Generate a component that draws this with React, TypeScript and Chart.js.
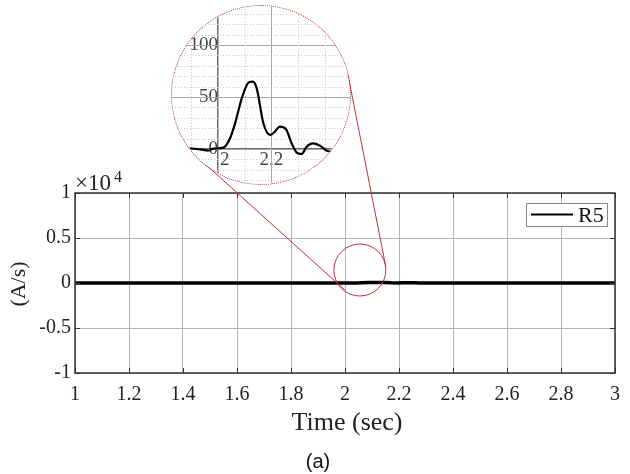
import React, { useEffect, useRef } from "react";
import { Chart, registerables } from "chart.js";
Chart.register(...registerables);

// ---- data (A/s) ----
const timeSec = [1.0, 1.2, 1.4, 1.6, 1.8, 1.85, 1.889, 1.933, 1.964, 1.982, 2.02, 2.045, 2.064, 2.089, 2.114, 2.13, 2.145, 2.17, 2.195, 2.213, 2.232, 2.255, 2.276, 2.295, 2.313, 2.332, 2.355, 2.382, 2.407, 2.426, 2.438, 2.47, 2.6, 2.8, 3.0];
const rateR5 = [0, 0, 0, 0, 0, 1, 0.7, -0.3, -1.6, 0.3, 1.3, 10.3, 24.7, 48.7, 63.8, 64.7, 58.3, 24.7, 13.5, 16.7, 21.5, 18.9, 5.4, -3.5, -4.8, 2.2, 5.4, 3.2, -1.6, -2.6, -0.3, 0.5, 0, 0, 0];
const seriesLabel = "R5";

// main axes
const xTicks = [1, 1.2, 1.4, 1.6, 1.8, 2, 2.2, 2.4, 2.6, 2.8, 3];
const xTickLabels = ["1", "1.2", "1.4", "1.6", "1.8", "2", "2.2", "2.4", "2.6", "2.8", "3"];
const yTicks = [-10000, -5000, 0, 5000, 10000];
const yTickLabels = ["-1", "-0.5", "0", "0.5", "1"];

// inset axes
const insetXTicks = [2, 2.2];
const insetXTickLabels = ["\u2002\u20092", "2.2"];
const insetYTicks = [0, 50, 100];
const insetYTickLabels = ["0", "50", "100"];
const insetXGrid = [1.9, 2.0, 2.1, 2.2, 2.3, 2.4];
const insetYGrid = [-30, -20, -10, 0, 10, 20, 30, 40, 50, 60, 70, 80, 90, 100, 110, 120, 130];
const insetXRange = [1.8277, 2.4944];
const insetYRange = [-33.65, 137.5];

// zoom marker centre (data units)
const zoomCenterTime = 2.055;
const zoomCenterRate = 1444;

const SERIF = "'Liberation Serif', 'Times New Roman', serif";
const RED = "#c4303a";

const zeroPad = (s: any) => {
  s.paddingTop = 0;
  s.paddingBottom = 0;
  s.paddingLeft = 0;
  s.paddingRight = 0;
};

const mainDecor = {
  id: "mainDecor",
  afterDraw(chart: any) {
    const { ctx, chartArea: a, scales } = chart;
    const x = scales.x, y = scales.y;
    ctx.save();
    // frame
    ctx.strokeStyle = "#333";
    ctx.lineWidth = 1.5;
    ctx.strokeRect(a.left, a.top, a.right - a.left, a.bottom - a.top);
    ctx.lineWidth = 1;
    ctx.beginPath();
    xTicks.forEach((v) => {
      const px = Math.round(x.getPixelForValue(v)) + 0.5;
      ctx.moveTo(px, a.top); ctx.lineTo(px, a.top + 5);
      ctx.moveTo(px, a.bottom); ctx.lineTo(px, a.bottom - 5);
    });
    yTicks.forEach((v) => {
      const py = Math.round(y.getPixelForValue(v)) + 0.5;
      ctx.moveTo(a.left, py); ctx.lineTo(a.left + 5, py);
      ctx.moveTo(a.right, py); ctx.lineTo(a.right - 5, py);
    });
    ctx.stroke();

    // legend
    ctx.fillStyle = "#fff";
    ctx.fillRect(526.5, 203.5, 81, 23);
    ctx.strokeStyle = "#888";
    ctx.lineWidth = 1;
    ctx.strokeRect(526.5, 203.5, 81, 23);
    ctx.strokeStyle = "#000";
    ctx.lineWidth = 2;
    ctx.beginPath(); ctx.moveTo(531, 214.5); ctx.lineTo(573, 214.5); ctx.stroke();
    ctx.fillStyle = "#111";
    ctx.font = "22px " + SERIF;
    ctx.textAlign = "left";
    ctx.textBaseline = "middle";
    ctx.fillText(seriesLabel, 578, 216);

    // zoom marker
    const cx = x.getPixelForValue(zoomCenterTime);
    const cy = y.getPixelForValue(zoomCenterRate);
    ctx.strokeStyle = RED;
    ctx.lineWidth = 1;
    ctx.beginPath(); ctx.arc(cx, cy, 26, 0, Math.PI * 2); ctx.stroke();
    ctx.beginPath();
    ctx.moveTo(204, 163); ctx.lineTo(cx - 15, cy + 20);
    ctx.moveTo(348, 75); ctx.lineTo(cx + 26, cy - 3);
    ctx.stroke();

    // texts
    ctx.fillStyle = "#222";
    ctx.font = "23px " + SERIF;
    ctx.textAlign = "left";
    ctx.textBaseline = "alphabetic";
    ctx.fillText("\u00d710", 75, 190);
    ctx.font = "16px " + SERIF;
    ctx.fillText("4", 114, 182);

    ctx.font = "26px " + SERIF;
    ctx.textAlign = "center";
    ctx.textBaseline = "middle";
    ctx.fillText("Time (sec)", 347, 423);

    ctx.font = "20px 'Liberation Sans', Arial, sans-serif";
    ctx.fillStyle = "#111";
    ctx.fillText("(a)", 318, 462);

    ctx.save();
    ctx.translate(19, 284);
    ctx.rotate(-Math.PI / 2);
    ctx.font = "22px " + SERIF;
    ctx.fillStyle = "#222";
    ctx.fillText("(A/s)", 0, 0);
    ctx.restore();

    ctx.restore();
  },
};

const insetGrid = {
  id: "insetGrid",
  beforeDatasetsDraw(chart: any) {
    const { ctx, chartArea: a, scales } = chart;
    const x = scales.x, y = scales.y;
    ctx.save();
    ctx.lineWidth = 1;
    insetYGrid.forEach((v) => {
      const major = v % 50 === 0;
      const py = Math.round(y.getPixelForValue(v)) + 0.5;
      ctx.strokeStyle = major ? "#a8a8a8" : "#c8c8c8";
      ctx.setLineDash(major ? [] : [1, 2]);
      ctx.beginPath(); ctx.moveTo(a.left, py); ctx.lineTo(a.right, py); ctx.stroke();
    });
    insetXGrid.forEach((v) => {
      const major = Math.abs(v - 2.2) < 1e-6;
      const px = Math.round(x.getPixelForValue(v)) + 0.5;
      ctx.strokeStyle = major ? "#a8a8a8" : "#c8c8c8";
      ctx.setLineDash(major ? [] : [1, 2]);
      ctx.beginPath(); ctx.moveTo(px, a.top); ctx.lineTo(px, a.bottom); ctx.stroke();
    });
    ctx.restore();
  },
};

export default function App() {
  const mainRef = useRef<HTMLCanvasElement | null>(null);
  const insetRef = useRef<HTMLCanvasElement | null>(null);

  useEffect(() => {
    const pts = timeSec.map((t, i) => ({ x: t, y: rateR5[i] }));
    const main = new Chart(mainRef.current as HTMLCanvasElement, {
      type: "line",
      data: {
        datasets: [
          {
            label: seriesLabel,
            data: pts,
            borderColor: "#000",
            borderWidth: 3.5,
            pointRadius: 0,
            tension: 0,
          },
        ],
      },
      options: {
        responsive: false,
        animation: false,
        devicePixelRatio: 1,
        layout: { padding: { left: 0, right: 9, top: 193, bottom: 0 } },
        plugins: { legend: { display: false }, tooltip: { enabled: false }, title: { display: false } },
        scales: {
          x: {
            type: "linear",
            min: 1,
            max: 3,
            afterBuildTicks: (s: any) => { s.ticks = xTicks.map((v) => ({ value: v })); },
            afterFit: (s: any) => { s.height = 101; },
            ticks: {
              autoSkip: false,
              maxRotation: 0,
              padding: 10,
              color: "#222",
              font: { family: SERIF, size: 20 },
              callback: (v: any) => { const i = xTicks.indexOf(Number(v)); return i >= 0 ? xTickLabels[i] : ""; },
            },
            grid: { color: "#b4b4b4", lineWidth: 1, drawTicks: false },
            border: { display: false },
          },
          y: {
            type: "linear",
            min: -10000,
            max: 10000,
            afterBuildTicks: (s: any) => { s.ticks = yTicks.map((v) => ({ value: v })); },
            afterFit: (s: any) => { s.width = 75; },
            ticks: {
              padding: 4,
              color: "#222",
              font: { family: SERIF, size: 20 },
              callback: (v: any) => { const i = yTicks.indexOf(Number(v)); return i >= 0 ? yTickLabels[i] : ""; },
            },
            grid: { color: "#b4b4b4", lineWidth: 1, drawTicks: false },
            border: { display: false },
          },
        },
      },
      plugins: [mainDecor],
    } as any);

    const inset = new Chart(insetRef.current as HTMLCanvasElement, {
      type: "line",
      data: {
        datasets: [
          {
            label: seriesLabel,
            data: pts,
            borderColor: "#000",
            borderWidth: 2.2,
            pointRadius: 0,
            tension: 0.35,
            cubicInterpolationMode: "monotone",
          },
        ],
      },
      options: {
        responsive: false,
        animation: false,
        devicePixelRatio: 1,
        layout: { padding: 0 },
        plugins: { legend: { display: false }, tooltip: { enabled: false } },
        scales: {
          x: {
            type: "linear",
            min: insetXRange[0],
            max: insetXRange[1],
            position: { y: 0 },
            afterBuildTicks: (s: any) => { s.ticks = insetXTicks.map((v) => ({ value: v })); },
            afterFit: zeroPad,
            ticks: {
              autoSkip: false,
              maxRotation: 0,
              padding: 0,
              color: "#444",
              font: { family: SERIF, size: 19 },
              callback: (v: any) => { const i = insetXTicks.indexOf(Number(v)); return i >= 0 ? insetXTickLabels[i] : ""; },
            },
            grid: { drawOnChartArea: false, drawTicks: false },
            border: { display: true, color: "#6a6a6a", width: 1.5 },
          },
          y: {
            type: "linear",
            min: insetYRange[0],
            max: insetYRange[1],
            position: { x: 2 },
            afterBuildTicks: (s: any) => { s.ticks = insetYTicks.map((v) => ({ value: v })); },
            afterFit: zeroPad,
            ticks: {
              padding: 1,
              color: "#444",
              font: { family: SERIF, size: 19 },
              callback: (v: any) => { const i = insetYTicks.indexOf(Number(v)); return i >= 0 ? insetYTickLabels[i] : ""; },
            },
            grid: { drawOnChartArea: false, drawTicks: false },
            border: { display: true, color: "#6a6a6a", width: 1.5 },
          },
        },
      },
      plugins: [insetGrid],
    } as any);

    return () => {
      main.destroy();
      inset.destroy();
    };
  }, []);

  return (
    <div style={{ position: "absolute", left: 0, top: 0, width: 630, height: 474, background: "#fff" }}>
      <canvas ref={mainRef} width={630} height={474} style={{ position: "absolute", left: 0, top: 0, width: 630, height: 474 }} />
      <div
        style={{
          position: "absolute",
          left: 172,
          top: 6,
          width: 178,
          height: 178,
          borderRadius: "50%",
          overflow: "hidden",
          background: "#fff",
        }}
      >
        <canvas ref={insetRef} width={178} height={178} style={{ position: "absolute", left: 0, top: 0, width: 178, height: 178 }} />
      </div>
      <div
        style={{
          position: "absolute",
          left: 171,
          top: 5,
          width: 180,
          height: 180,
          boxSizing: "border-box",
          borderRadius: "50%",
          border: `1.5px dotted ${RED}`,
          pointerEvents: "none",
        }}
      />
    </div>
  );
}
